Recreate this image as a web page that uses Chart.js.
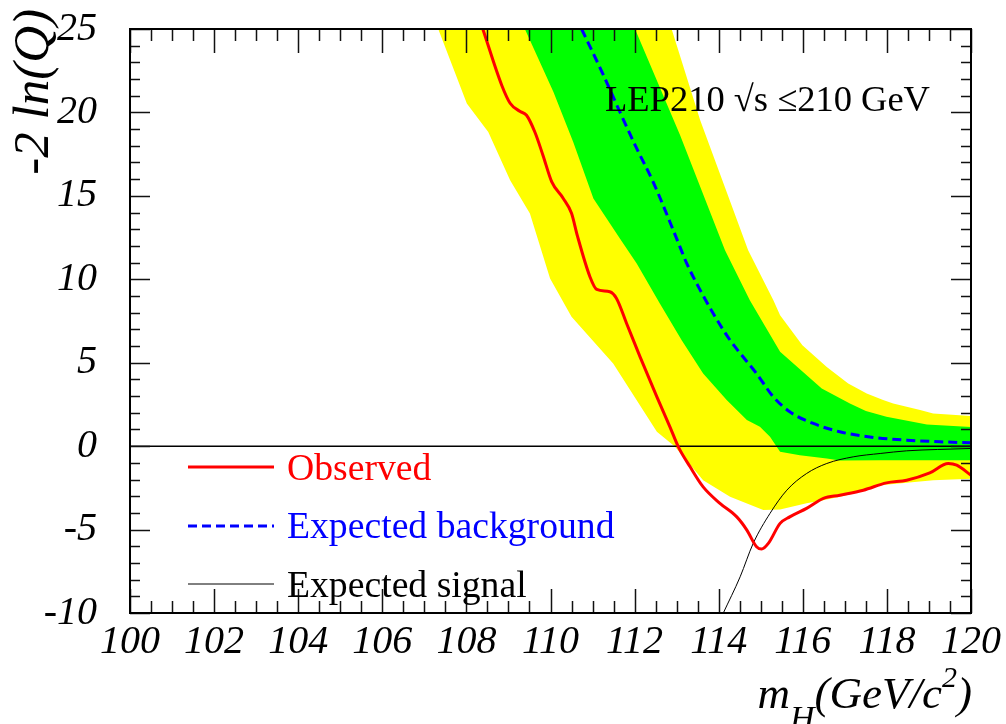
<!DOCTYPE html>
<html>
<head>
<meta charset="utf-8">
<script src="https://cdn.jsdelivr.net/npm/chart.js@4/dist/chart.umd.min.js"></script>
<style>
  html, body { margin: 0; padding: 0; background: #fff; }
  #wrap { width: 1006px; height: 724px; }
</style>
</head>
<body>
<div id="wrap"><canvas id="c" width="1006" height="724"></canvas></div>
<script>
// ---- data ----
const xTicks = [100, 102, 104, 106, 108, 110, 112, 114, 116, 118, 120];
const yTicks = [-10, -5, 0, 5, 10, 15, 20, 25];

const observed = [
  [108.39, 25], [108.84, 21.63], [109.04, 20.55], [109.27, 20.07], [109.43, 19.83],
  [109.63, 18.81], [109.82, 17.44], [110.03, 15.84], [110.30, 14.86], [110.50, 13.96],
  [110.64, 12.6], [110.94, 10.14], [111.10, 9.39], [111.41, 9.25], [111.57, 8.85],
  [111.81, 7.35], [112.13, 5.35], [112.53, 2.95], [112.84, 1.16], [113.04, -0.04],
  [113.32, -1.24], [113.63, -2.44], [114.03, -3.43], [114.43, -4.24], [114.67, -5.03],
  [114.90, -6.03], [115.02, -6.17], [115.18, -5.83], [115.46, -4.63], [115.69, -4.24],
  [116.09, -3.73], [116.49, -3.13], [116.88, -2.94], [117.44, -2.64], [117.99, -2.20],
  [118.47, -2.04], [119.02, -1.60], [119.46, -1.04], [119.66, -1.14], [120.0, -1.74]
];
const expectedBackground = [
  [110.74, 25], [111.26, 22.23], [111.65, 20.03], [112.05, 17.84], [112.44, 15.84],
  [113.0, 12.44], [113.24, 10.95], [113.56, 9.35], [113.87, 7.95], [114.27, 6.35],
  [114.5, 5.6], [114.9, 4.35], [115.30, 2.95], [115.69, 2.06], [116.25, 1.36],
  [116.88, 0.86], [117.68, 0.52], [118.47, 0.36], [119.26, 0.26], [120.0, 0.20]
];
const expectedSignal = [
  [114.0, -10.6], [114.11, -10.0], [114.51, -7.83], [114.82, -5.83], [115.22, -4.03],
  [115.62, -2.64], [116.09, -1.64], [116.57, -1.04], [117.2, -0.64], [117.84, -0.44],
  [118.47, -0.28], [119.2, -0.2], [120.0, -0.14]
];
// band edges (2 sigma = yellow, 1 sigma = green)
const band2Low = [
  [107.33, 25], [108.01, 20.53], [108.52, 18.83], [109.04, 15.94], [109.51, 13.94],
  [109.99, 10.05], [110.50, 7.75], [111.49, 4.95], [112.53, 0.86], [112.95, 0.0],
  [113.63, -2.04], [114.27, -3.04], [115.06, -3.83], [115.46, -3.79], [116.09, -3.43],
  [116.49, -3.24], [117.04, -2.94], [117.84, -2.35], [119.1, -2.05], [120.0, -1.95]
];
const band1Low = [
  [109.39, 25], [110.07, 21.23], [110.54, 18.23], [111.02, 14.84], [111.65, 12.44],
  [112.05, 10.95], [112.60, 8.55], [113.12, 6.35], [113.63, 4.36], [114.19, 2.76],
  [114.67, 1.56], [114.98, 1.16], [115.22, 0.56], [115.46, -0.34], [115.93, -0.54],
  [116.57, -0.74], [116.88, -0.86], [117.84, -0.84], [120.0, -0.84]
];
const band1High = [
  [112.01, 25], [113.08, 18.64], [114.15, 11.74], [114.74, 8.75], [115.46, 5.65],
  [116.45, 3.45], [117.12, 2.56], [117.5, 2.1], [117.99, 1.76], [118.95, 1.3], [120.0, 1.14]
];
const band2High = [
  [112.88, 25], [113.56, 19.53], [114.70, 11.74], [115.30, 8.75], [115.46, 7.85],
  [115.99, 6.05], [116.57, 4.75], [117.08, 3.76], [117.52, 3.16], [117.91, 2.76],
  [118.15, 2.56], [118.79, 2.16], [119.10, 1.96], [120.0, 1.80]
];
const zeroLine = [[100, 0], [120, 0]];

const legendLabels = ['Observed', 'Expected background', 'Expected signal'];
const energyLabel = 'LEP210 \u221As \u2264210 GeV';

// ---- helpers ----
const pts = arr => arr.map(p => ({ x: p[0], y: p[1] }));
const SERIF = '"Liberation Serif", "Times New Roman", serif';

const edge = (data, fillColor, order) => ({
  data: pts(data), borderWidth: 0, borderColor: 'rgba(0,0,0,0)', pointRadius: 0,
  fill: 'end', backgroundColor: fillColor, tension: 0, order
});

const decorations = {
  id: 'decorations',
  afterDraw(chart) {
    const { ctx, chartArea: a, scales: { x, y } } = chart;
    ctx.save();
    // ticks on all four sides, inside
    ctx.strokeStyle = '#111';
    ctx.lineWidth = 1.5;
    ctx.beginPath();
    for (let v = 100; v <= 120.0001; v += 0.5) {
      const px = Math.round(x.getPixelForValue(v)) + 0.5;
      const major = Math.abs(v / 2 - Math.round(v / 2)) < 1e-6;
      const L = major ? 24 : 12;
      ctx.moveTo(px, a.bottom); ctx.lineTo(px, a.bottom - L);
      ctx.moveTo(px, a.top); ctx.lineTo(px, a.top + L);
    }
    for (let v = -10; v <= 25; v += 1) {
      const py = Math.round(y.getPixelForValue(v)) + 0.5;
      const major = v % 5 === 0;
      const L = major ? 20 : 10;
      ctx.moveTo(a.left, py); ctx.lineTo(a.left + L, py);
      ctx.moveTo(a.right, py); ctx.lineTo(a.right - L, py);
    }
    ctx.stroke();
    // frame
    ctx.lineWidth = 2;
    ctx.strokeStyle = '#000';
    ctx.strokeRect(a.left, a.top, a.right - a.left, a.bottom - a.top);

    // energy label
    ctx.fillStyle = '#000';
    ctx.textAlign = 'left';
    ctx.textBaseline = 'alphabetic';
    ctx.font = '36.5px ' + SERIF;
    ctx.fillText(energyLabel, 605, 111);

    // legend
    const lx0 = 188, lx1 = 274, tx = 287;
    const rows = [
      { y: 467, color: '#ff0000', w: 3, dash: [], text: legendLabels[0], base: 480 },
      { y: 526, color: '#0000ff', w: 3, dash: [9, 5], text: legendLabels[1], base: 538 },
      { y: 584, color: '#000000', w: 1, dash: [], text: legendLabels[2], base: 597 }
    ];
    ctx.font = '37.7px ' + SERIF;
    rows.forEach(r => {
      ctx.beginPath();
      ctx.setLineDash(r.dash);
      ctx.strokeStyle = r.color;
      ctx.lineWidth = r.w;
      ctx.moveTo(lx0, r.y); ctx.lineTo(lx1, r.y);
      ctx.stroke();
      ctx.setLineDash([]);
      ctx.fillStyle = r.color;
      ctx.fillText(r.text, tx, r.base);
    });

    // x axis title: m_H(GeV/c^2)
    ctx.fillStyle = '#000';
    const big = 'italic 45px ' + SERIF, sub = 'italic 34px ' + SERIF, sup = 'italic 30px ' + SERIF;
    const parts = [
      { t: 'm', f: big, dy: 0 },
      { t: 'H', f: sub, dy: 21 },
      { t: '(GeV/c', f: big, dy: 0 },
      { t: '2', f: sup, dy: -21 },
      { t: ')', f: big, dy: 0 }
    ];
    let total = 0;
    parts.forEach(p => { ctx.font = p.f; p.w = ctx.measureText(p.t).width; total += p.w; });
    let cx = 972 - total;
    const base = 708;
    parts.forEach(p => { ctx.font = p.f; ctx.fillText(p.t, cx, base + p.dy); cx += p.w; });

    // y axis title
    ctx.save();
    ctx.translate(48, 9);
    ctx.rotate(-Math.PI / 2);
    ctx.font = 'italic 51px ' + SERIF;
    ctx.textAlign = 'right';
    ctx.textBaseline = 'alphabetic';
    ctx.fillText('-2 ln(Q)', 0, 0);
    ctx.restore();

    ctx.restore();
  }
};

new Chart(document.getElementById('c'), {
  type: 'line',
  data: {
    datasets: [
      { label: legendLabels[0], data: pts(observed), borderColor: '#ff0000', borderWidth: 3,
        pointRadius: 0, fill: false, cubicInterpolationMode: 'monotone', order: 1 },
      { label: legendLabels[1], data: pts(expectedBackground), borderColor: '#0000ff', borderWidth: 3,
        borderDash: [9, 5], pointRadius: 0, fill: false, cubicInterpolationMode: 'monotone', order: 2 },
      { label: legendLabels[2], data: pts(expectedSignal), borderColor: '#000000', borderWidth: 1,
        pointRadius: 0, fill: false, cubicInterpolationMode: 'monotone', order: 3 },
      { label: 'zero', data: pts(zeroLine), borderColor: '#000000', borderWidth: 1.5,
        pointRadius: 0, fill: false, order: 4 },
      Object.assign(edge(band2Low, '#ffff00', 10), { label: 'b2low' }),
      Object.assign(edge(band1Low, '#00ff00', 9), { label: 'b1low' }),
      Object.assign(edge(band1High, '#ffff00', 8), { label: 'b1high' }),
      Object.assign(edge(band2High, '#ffffff', 7), { label: 'b2high' })
    ]
  },
  options: {
    responsive: false,
    animation: false,
    devicePixelRatio: 1,
    layout: { padding: { left: 0, right: 35, top: 29, bottom: 0 } },
    plugins: { legend: { display: false }, tooltip: { enabled: false } },
    scales: {
      x: {
        type: 'linear', min: 100, max: 120,
        afterBuildTicks: s => { s.ticks = xTicks.map(v => ({ value: v })); },
        afterFit: s => { s.height = 111; s.paddingLeft = 0; s.paddingRight = 0; },
        grid: { display: false, drawTicks: false },
        border: { display: false },
        ticks: { padding: 5, color: '#000', maxRotation: 0, autoSkip: false,
                 font: { family: SERIF, size: 40, style: 'italic' } }
      },
      y: {
        type: 'linear', min: -10, max: 25,
        afterBuildTicks: s => { s.ticks = yTicks.map(v => ({ value: v })); },
        afterFit: s => { s.width = 130; s.paddingTop = 0; s.paddingBottom = 0; },
        grid: { display: false, drawTicks: false },
        border: { display: false },
        ticks: { padding: 33, color: '#000', autoSkip: false,
                 font: { family: SERIF, size: 40, style: 'italic' } }
      }
    }
  },
  plugins: [decorations]
});
</script>
</body>
</html>
